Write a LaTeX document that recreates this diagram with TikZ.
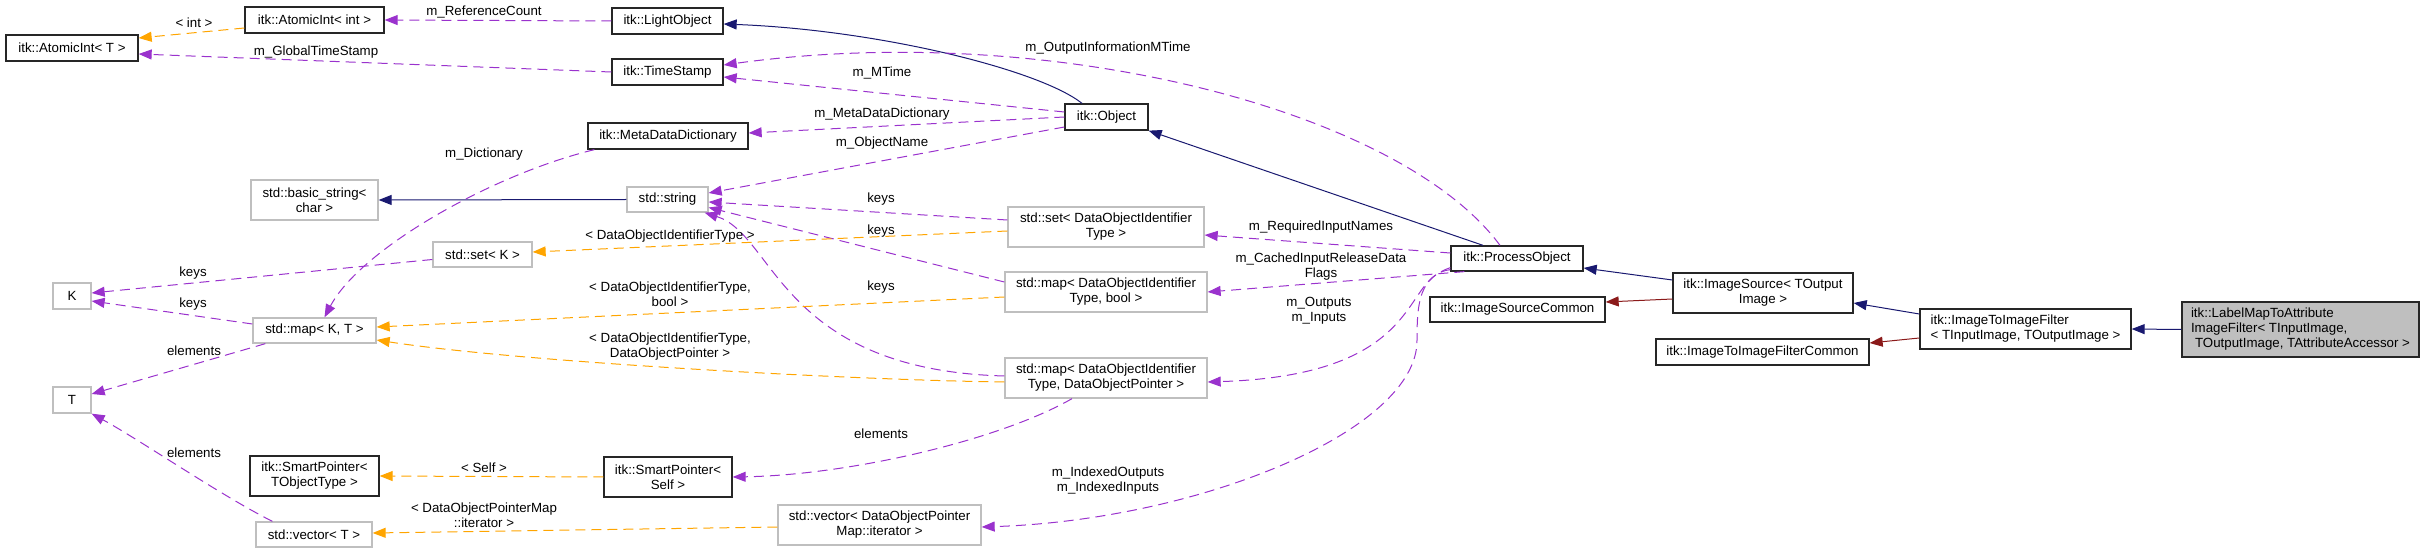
\documentclass[tikz,border=0pt]{standalone}
\usepackage{fontspec}
\setmainfont{Liberation Sans}
\usetikzlibrary{arrows.meta}
\definecolor{usecol}{HTML}{9A32CD}
\definecolor{tplcol}{HTML}{FFA500}
\definecolor{pubcol}{HTML}{191970}
\definecolor{privcol}{HTML}{8B1A1A}
\definecolor{undoc}{HTML}{BFBFBF}
\begin{document}
\begin{tikzpicture}[
    x=1pt, y=-1pt,
    font=\fontsize{13.3}{15}\selectfont,
    cls/.style={draw=black!85, line width=1.3pt, inner sep=0pt, align=center, minimum height=26},
    ext/.style={cls, draw=undoc},
    two/.style={minimum height=40},
    lbl/.style={inner sep=0pt, align=center},
    tip/.style={-{Triangle[length=13pt,width=10pt]}},
    usage/.style={tip, draw=usecol, line width=1pt, dash pattern=on 10pt off 6pt},
    tmpl/.style={tip, draw=tplcol, line width=1pt, dash pattern=on 10pt off 6pt},
    pub/.style={tip, draw=pubcol, line width=1pt},
    priv/.style={tip, draw=privcol, line width=1pt}
]
\useasboundingbox (0,0) rectangle (2429,553);
% classes
\node[cls, minimum width=132] (aiT) at (72,48) {itk::AtomicInt< T >};
\node[cls, minimum width=139] (aiInt) at (314.5,20) {itk::AtomicInt< int >};
\node[cls, minimum width=111] (light) at (667.5,21) {itk::LightObject};
\node[cls, minimum width=111] (stamp) at (667.5,72) {itk::TimeStamp};
\node[cls, minimum width=160] (mdd) at (668,136) {itk::MetaDataDictionary};
\node[cls, minimum width=83] (object) at (1106.5,117) {itk::Object};
\node[ext, two, minimum width=127] (bstr) at (314.5,200) {std::basic\_string<\\char >};
\node[ext, minimum width=81, minimum height=25] (str) at (667.5,199.5) {std::string};
\node[ext, minimum width=99, minimum height=25] (setK) at (482.5,254.5) {std::set< K >};
\node[ext, two, minimum width=196] (setDOI) at (1106,227) {std::set< DataObjectIdentifier\\Type >};
\node[ext, minimum width=38] (K) at (72,296) {K};
\node[ext, minimum width=123, minimum height=25] (mapKT) at (314.5,330.5) {std::map< K, T >};
\node[ext, minimum width=38] (T) at (72,400) {T};
\node[cls, two, minimum width=129] (spT) at (314.5,476) {itk::SmartPointer<\\TObjectType >};
\node[ext, minimum width=116, minimum height=25] (vecT) at (314,534.5) {std::vector< T >};
\node[ext, two, minimum width=202] (mapBool) at (1106,292) {std::map< DataObjectIdentifier\\Type, bool >};
\node[ext, two, minimum width=202] (mapPtr) at (1106,378) {std::map< DataObjectIdentifier\\Type, DataObjectPointer >};
\node[cls, two, minimum width=128] (spSelf) at (668,477) {itk::SmartPointer<\\Self >};
\node[ext, two, minimum width=203] (vecIt) at (879.5,525) {std::vector< DataObjectPointer\\Map::iterator >};
\node[cls, minimum width=132, minimum height=25] (proc) at (1517,258.5) {itk::ProcessObject};
\node[cls, minimum width=175, minimum height=25] (isc) at (1517.5,309.5) {itk::ImageSourceCommon};
\node[cls, two, minimum width=180] (isrc) at (1763,293) {itk::ImageSource< TOutput\\Image >};
\node[cls, minimum width=213] (itifc) at (1762.5,352) {itk::ImageToImageFilterCommon};
\node[cls, two, minimum width=211, align=left] (itif) at (2025.5,329) {itk::ImageToImageFilter\\< TInputImage, TOutputImage >};
\node[cls, minimum width=237, minimum height=55, fill=undoc, align=left] (lmap) at (2300.5,329.5)
    {itk::LabelMapToAttribute\\ImageFilter< TInputImage,\\\hspace*{4pt}TOutputImage, TAttributeAccessor >};

% inheritance
\draw[pub] (lmap.west) -- (itif.east);
\draw[pub] ([yshift=15]itif.west) -- ([yshift=-10]isrc.east);
\draw[priv] ([yshift=-9]itif.west) -- ([yshift=9]itifc.east);
\draw[pub] ([yshift=13]isrc.west) -- ([yshift=-9.5]proc.east);
\draw[priv] ([yshift=-6]isrc.west) -- ([yshift=7.5]isc.east);
\draw[pub] ([xshift=-34]proc.north) -- (object.south east);
\draw[pub] ([xshift=-24.5]object.north) .. controls (1040,70) and (880,30) .. ([yshift=-3]light.east);
\draw[pub] (str.west) -- (bstr.east);

% members
\draw[usage] (light.west) -- (aiInt.east);
\draw[usage] (stamp.west) -- ([yshift=-6]aiT.east);
\draw[usage] ([yshift=5]object.west) -- ([yshift=-5]stamp.east);
\draw[usage] ([xshift=-17]proc.north) .. controls (1400,110) and (1050,20) .. ([yshift=7]stamp.east);
\draw[usage] (object.west) -- ([yshift=3]mdd.east);
\draw[usage] ([yshift=-10]object.west) -- ([yshift=6.5]str.east);
\draw[usage] ([xshift=7]mdd.south west) .. controls (490,175) and (360,250) .. ([xshift=10]mapKT.north);
\draw[usage] ([yshift=-5]setK.west) -- ([yshift=3]K.east);
\draw[usage] ([yshift=6.5]mapKT.west) -- ([yshift=-5]K.east);
\draw[usage] ([xshift=13]mapKT.south west) -- ([yshift=6]T.east);
\draw[usage] ([xshift=17]vecT.north west) .. controls (220,495) and (140,440) .. (T.south east);
\draw[usage] ([yshift=7]setDOI.west) -- ([yshift=-2.5]str.east);
\draw[usage] ([yshift=10]mapBool.west) -- ([yshift=-8]str.east);
\draw[usage] ([yshift=2]mapPtr.west) .. controls (780,370) and (775,235) .. ([xshift=-4]str.south east);
\draw[usage] ([xshift=-34]mapPtr.south) .. controls (1000,440) and (850,475) .. (spSelf.east);
\draw[usage] ([yshift=5.5]proc.west) -- ([yshift=-8]setDOI.east);
\draw[usage] ([xshift=14]proc.south west) -- (mapBool.east);
\draw[usage] ([yshift=2]proc.south west) .. controls (1400,275) and (1430,375) .. ([yshift=-4]mapPtr.east);
\draw[usage] ([yshift=4]proc.south west) .. controls (1420,278) and (1417,300) .. (1417,340)
    .. controls (1418,430) and (1200,520) .. ([yshift=-2]vecIt.east);

% template arguments
\draw[tmpl] ([yshift=-8]aiInt.west) -- ([yshift=10]aiT.east);
\draw[tmpl] ([yshift=-4]setDOI.west) -- ([yshift=2.5]setK.east);
\draw[tmpl] ([yshift=-5]mapBool.west) -- ([yshift=3.5]mapKT.east);
\draw[tmpl] ([yshift=-4]mapPtr.west) .. controls (850,380) and (520,362) .. ([yshift=-9.5]mapKT.east);
\draw[tmpl] (spSelf.west) -- (spT.east);
\draw[tmpl] ([yshift=-2]vecIt.west) -- ([yshift=1.5]vecT.east);

% edge labels
\node[lbl] (lInt) at (194,23) {< int >};
\node[lbl] (lRefCount) at (484,12) {m\_ReferenceCount};
\node[lbl] (lGlobal) at (316,52) {m\_GlobalTimeStamp};
\node[lbl] (lOutInfo) at (1108,48) {m\_OutputInformationMTime};
\node[lbl] (lMTime) at (882,73) {m\_MTime};
\node[lbl] (lMeta) at (882,114) {m\_MetaDataDictionary};
\node[lbl] (lName) at (882,143) {m\_ObjectName};
\node[lbl] (lDict) at (484,154) {m\_Dictionary};
\node[lbl] (lKeysA) at (193,273) {keys};
\node[lbl] (lKeysB) at (193,304) {keys};
\node[lbl] (lElemA) at (194,351) {elements};
\node[lbl] (lElemB) at (194,453) {elements};
\node[lbl] (lDoiSet) at (670,236) {< DataObjectIdentifierType >};
\node[lbl] (lKeysC) at (881,199) {keys};
\node[lbl] (lKeysD) at (881,231) {keys};
\node[lbl] (lKeysE) at (881,287) {keys};
\node[lbl] (lDoiBool) at (670,294) {< DataObjectIdentifierType,\\bool >};
\node[lbl] (lDoiPtr) at (670,347) {< DataObjectIdentifierType,\\DataObjectPointer >};
\node[lbl] (lElemC) at (881,434) {elements};
\node[lbl] (lSelf) at (484,468) {< Self >};
\node[lbl] (lIter) at (484,515) {< DataObjectPointerMap\\::iterator >};
\node[lbl] (lReq) at (1321,227) {m\_RequiredInputNames};
\node[lbl] (lCached) at (1321,267) {m\_CachedInputReleaseData\\Flags};
\node[lbl] (lIO) at (1319,311) {m\_Outputs\\m\_Inputs};
\node[lbl] (lIdx) at (1108,481) {m\_IndexedOutputs\\m\_IndexedInputs};
\end{tikzpicture}
\end{document}
